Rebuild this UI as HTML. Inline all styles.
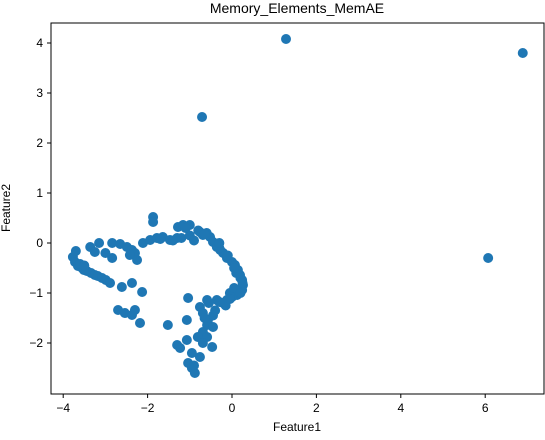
<!DOCTYPE html>
<html><head><meta charset="utf-8"><style>
body{margin:0;background:#fff;}
svg text{font-family:"Liberation Sans","DejaVu Sans",sans-serif;fill:#000;}
</style></head><body>
<svg id="chart" width="545" height="435">
<rect x="0" y="0" width="545" height="435" fill="#fff"/>
<g id="marks"></g>
<rect x="51" y="23" width="493" height="371" fill="none" stroke="#000" stroke-width="1"/>
<g id="xticks"></g>
<g id="yticks"></g>
<text x="297" y="13" text-anchor="middle" font-size="14">Memory_Elements_MemAE</text>
<text x="297" y="431" text-anchor="middle" font-size="12">Feature1</text>
<text x="10" y="208" text-anchor="middle" font-size="12" transform="rotate(-90 10 208)">Feature2</text>
</svg>
<script>
const xTicks=[-4,-2,0,2,4,6];
const yTicks=[-2,-1,0,1,2,3,4];
const xVals=[-3.77,-3.72,-3.65,-3.55,-3.44,-3.34,-3.25,-3.18,-3.08,-2.99,-2.89,-3.70,-3.60,-3.51,-3.36,-3.15,-3.25,-2.84,-2.84,-2.65,-2.49,-2.37,-2.30,-2.25,-2.42,-2.11,-1.94,-1.78,-1.64,-1.47,-1.30,-1.28,-1.16,-1.00,-1.87,-1.87,-0.76,-0.69,-0.52,-0.45,-0.36,-0.28,-0.21,-0.12,0,0.07,0.14,0.19,0.24,0.26,0.24,0.12,0,-0.12,-0.21,-0.36,-0.59,-0.76,-0.69,-0.57,-0.59,-0.45,-0.69,-0.59,-0.81,-0.69,-0.47,-0.76,-0.95,-1.04,-0.95,-0.88,-1.07,-1.30,-1.23,-1.04,-1.07,-1.52,-2.61,-2.37,-2.13,-2.70,-2.54,-2.37,-2.30,-2.18,-0.05,0.05,-0.30,-0.60,0.10,-0.15,-0.40,-0.55,-1.20,-1.00,-0.90,-3.50,-3.00,-0.80,-0.65,-0.30,-0.10,0.05,0.20,0.25,0.20,-0.05,-0.30,-0.45,-0.65,-1.10,-1.40,-1.70,-0.90,1.28,-0.71,6.89,6.07];
const yVals=[-0.28,-0.38,-0.46,-0.50,-0.56,-0.60,-0.64,-0.66,-0.70,-0.74,-0.80,-0.16,-0.42,-0.54,-0.08,0.00,-0.18,0.00,-0.30,-0.02,-0.08,-0.14,-0.20,-0.34,-0.24,0.00,0.06,0.10,0.12,0.06,0.10,0.32,0.36,0.36,0.52,0.42,0.22,0.16,0.12,0.02,-0.08,-0.14,-0.20,-0.30,-0.38,-0.44,-0.54,-0.64,-0.74,-0.84,-0.94,-1.04,-1.08,-1.14,-1.20,-1.14,-1.14,-1.28,-1.40,-1.54,-1.64,-1.68,-1.78,-1.88,-1.88,-2.00,-2.08,-2.28,-2.20,-2.40,-2.50,-2.60,-1.94,-2.04,-2.10,-1.10,-1.54,-1.64,-0.88,-0.80,-0.98,-1.34,-1.40,-1.44,-1.34,-1.60,-1.00,-0.90,-0.10,0.20,-0.60,-1.25,-1.35,-1.20,0.10,0.15,0.05,-0.45,-0.20,0.25,0.18,0.00,-0.25,-0.50,-0.70,-0.80,-1.00,-1.12,-1.18,-1.45,-1.50,0.30,0.05,0.08,-2.45,4.08,2.52,3.80,-0.30];
const NS="http://www.w3.org/2000/svg";
function sx(v){return 232+v*42.2;}
function sy(v){return 243-v*50;}
const marks=document.getElementById('marks');
for(let i=0;i<xVals.length;i++){
  const c=document.createElementNS(NS,'circle');
  c.setAttribute('cx',sx(xVals[i]));c.setAttribute('cy',sy(yVals[i]));
  c.setAttribute('r',5);c.setAttribute('fill','#1f77b4');
  
  
  marks.appendChild(c);
}
const xg=document.getElementById('xticks');
xTicks.forEach(t=>{
  const l=document.createElementNS(NS,'line');
  l.setAttribute('x1',sx(t));l.setAttribute('x2',sx(t));l.setAttribute('y1',394);l.setAttribute('y2',398);l.setAttribute('stroke','#000');
  
  
  xg.appendChild(l);
  const tx=document.createElementNS(NS,'text');
  tx.setAttribute('x',sx(t));tx.setAttribute('y',412);tx.setAttribute('text-anchor','middle');tx.setAttribute('font-size','12');
  tx.textContent=t<0?'\u2212'+(-t):String(t);
  
  
  xg.appendChild(tx);
});
const yg=document.getElementById('yticks');
yTicks.forEach(t=>{
  const l=document.createElementNS(NS,'line');
  l.setAttribute('x1',47);l.setAttribute('x2',51);l.setAttribute('y1',sy(t));l.setAttribute('y2',sy(t));l.setAttribute('stroke','#000');
  
  
  yg.appendChild(l);
  const tx=document.createElementNS(NS,'text');
  tx.setAttribute('x',43);tx.setAttribute('y',sy(t)+4);tx.setAttribute('text-anchor','end');tx.setAttribute('font-size','12');
  tx.textContent=t<0?'\u2212'+(-t):String(t);
  
  
  yg.appendChild(tx);
});
</script>
</body></html>
